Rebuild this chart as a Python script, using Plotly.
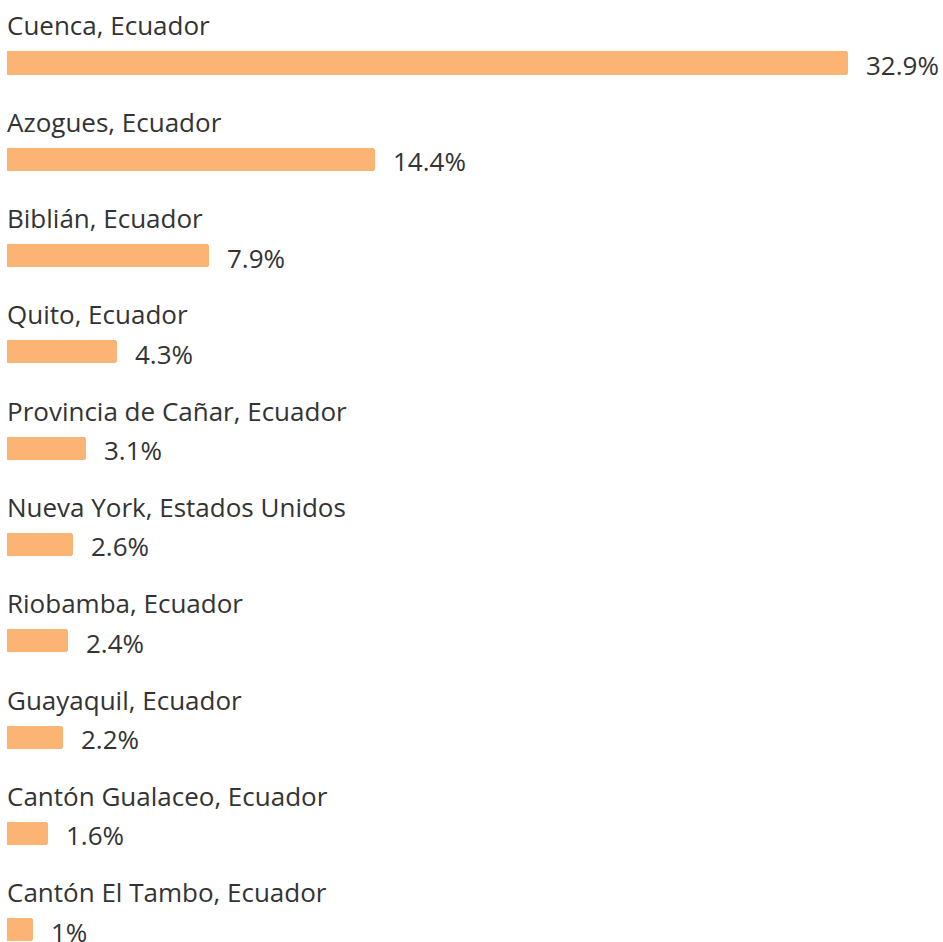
import plotly.graph_objects as go

locations = [
    "Cuenca, Ecuador",
    "Azogues, Ecuador",
    "Biblián, Ecuador",
    "Quito, Ecuador",
    "Provincia de Cañar, Ecuador",
    "Nueva York, Estados Unidos",
    "Riobamba, Ecuador",
    "Guayaquil, Ecuador",
    "Cantón Gualaceo, Ecuador",
    "Cantón El Tambo, Ecuador",
]
percentages = [32.9, 14.4, 7.9, 4.3, 3.1, 2.6, 2.4, 2.2, 1.6, 1.0]
value_labels = ["32.9%", "14.4%", "7.9%", "4.3%", "3.1%", "2.6%", "2.4%", "2.2%", "1.6%", "1%"]

BAR_COLOR = "#FBB474"
TEXT_COLOR = "#333333"
FONT = "Open Sans"

idx = list(range(len(locations)))

fig = go.Figure()
fig.add_trace(go.Bar(
    x=percentages,
    y=idx,
    orientation="h",
    width=0.24,
    marker=dict(color=BAR_COLOR, cornerradius=3, line=dict(width=0)),
    hoverinfo="skip",
))

annotations = []
for i, (loc, v, lab) in enumerate(zip(locations, percentages, value_labels)):
    annotations.append(dict(
        x=0, y=i - 0.39, xref="x", yref="y", text=loc, showarrow=False,
        xanchor="left", yanchor="middle", xshift=-2,
        font=dict(family=FONT, size=26, color=TEXT_COLOR),
    ))
    annotations.append(dict(
        x=v, y=i + 0.02, xref="x", yref="y", text=lab, showarrow=False,
        xanchor="left", yanchor="middle", xshift=16,
        font=dict(family=FONT, size=26, color=TEXT_COLOR),
    ))

fig.update_layout(
    width=943, height=942,
    margin=dict(l=0, r=0, t=0, b=0),
    paper_bgcolor="white", plot_bgcolor="white",
    showlegend=False,
    bargap=0,
    xaxis=dict(range=[-0.274, 36.617], visible=False, fixedrange=True),
    yaxis=dict(range=[9.128, -0.654], visible=False, fixedrange=True),
    annotations=annotations,
)

fig.write_html("out.html", config={"displayModeBar": False},
               post_script="document.body.style.margin='0';")
